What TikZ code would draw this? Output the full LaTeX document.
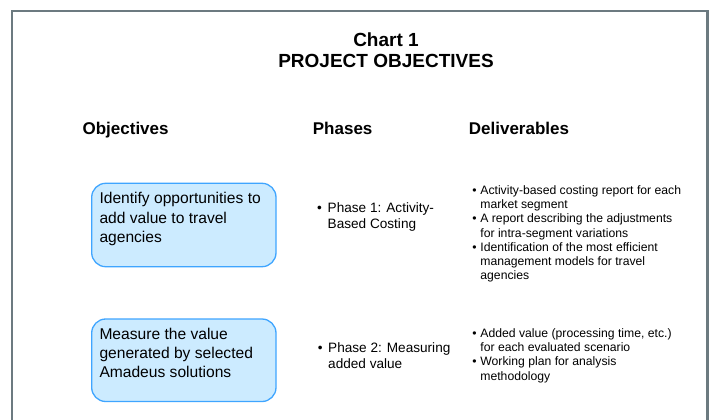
\documentclass[tikz,border=0pt]{standalone}
\usepackage{fontspec}
\setmainfont{Liberation Sans}
\definecolor{framegray}{RGB}{108,122,128}
\definecolor{boxfill}{RGB}{204,235,255}
\definecolor{boxline}{RGB}{63,165,255}
\newcommand{\bul}[1][10.7pt]{\makebox[#1][l]{\textbullet}}
\newcommand{\ind}[1][10.7pt]{\hspace*{#1}}
\tikzset{
  objbox/.style={draw=boxline,fill=boxfill,line width=1.3pt,rounded corners=14pt},
  objtext/.style={anchor=base west,inner sep=0pt,align=left,font=\fontsize{15.6}{19.3}\selectfont},
  phasetext/.style={anchor=base west,inner sep=0pt,align=left,font=\fontsize{13.6}{16.4}\selectfont},
  delivtext/.style={anchor=base west,inner sep=0pt,align=left,font=\fontsize{12.2}{14.2}\selectfont},
  head/.style={anchor=base west,inner sep=0pt,font=\bfseries\fontsize{17}{20}\selectfont},
  bigtitle/.style={anchor=base,inner sep=0pt,font=\bfseries\fontsize{19}{22}\selectfont}
}
\begin{document}
\begin{tikzpicture}[x=1pt,y=-1pt]
\useasboundingbox(0,0)rectangle(712,420);
\clip(0,0)rectangle(712,420);
%frame, open at the bottom
\draw[framegray,line width=2.4pt](11.8,440)|-(707.3,11)--(707.3,440);
%title
\node[bigtitle](chart)at(386,47){Chart 1};
\node[bigtitle](title)at(386,67){PROJECT OBJECTIVES};
%column heads
\node[head](hobj)at(82.4,134){Objectives};
\node[head](hph)at(312.7,134){Phases};
\node[head](hdv)at(468.7,134){Deliverables};
%objective boxes (text nodes sit on the baseline of their last line)
\node[objbox,minimum width=184.3pt,minimum height=83.4pt](obj1box)at(183.85,225){};
\node[objbox,minimum width=184.3pt,minimum height=82.5pt](obj2box)at(183.85,360.25){};
\node[objtext](obj1)at(99.3,242.3){Identify opportunities to\\add value to travel\\agencies};
\node[objtext](obj2)at(99.3,377.7){Measure the value\\generated by selected\\Amadeus solutions};
%phases
\node[phasetext](ph1)at(316.8,228.7){\bul Phase 1: Activity-\\\ind Based Costing};
\node[phasetext](ph2)at(317.6,368.7){\bul[10.4pt]Phase 2: Measuring\\\ind[10.4pt]added value};
%deliverables
\node[delivtext](dv1)at(472.2,279.7){\bul[8pt]Activity-based costing report for each\\\ind[8pt]market segment\\
  \bul[8pt]A report describing the adjustments\\\ind[8pt]for intra-segment variations\\
  \bul[8pt]Identification of the most efficient\\\ind[8pt]management models for travel\\\ind[8pt]agencies};
\node[delivtext](dv2)at(472.2,380.1){\bul[8pt]Added value (processing time, etc.)\\\ind[8pt]for each evaluated scenario\\
  \bul[8pt]Working plan for analysis\\\ind[8pt]methodology};
\end{tikzpicture}
\end{document}
